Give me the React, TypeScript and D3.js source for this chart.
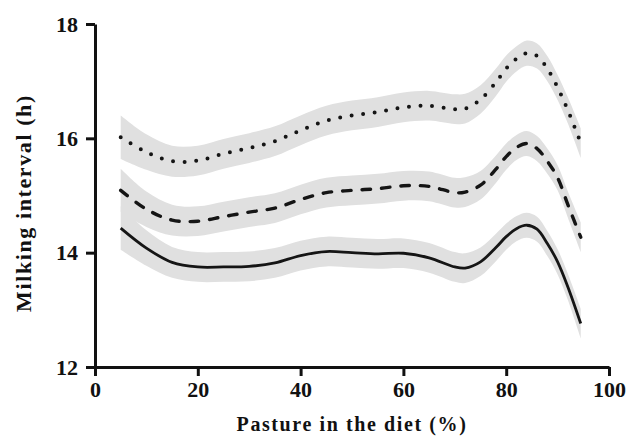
import React, { useRef, useEffect } from 'react';
import * as d3 from 'd3';

// pasture in the diet (%)
const pasture = [5, 10, 15, 20, 25, 30, 35, 40, 45, 50, 55, 60, 65, 70, 72, 75, 78, 80, 82, 84, 86, 88, 90, 92, 94.5];

// milking interval (h)
const upperCurve = [16.02, 15.76, 15.6, 15.61, 15.73, 15.83, 15.95, 16.14, 16.31, 16.4, 16.46, 16.54, 16.57, 16.51, 16.52, 16.68, 16.98, 17.22, 17.39, 17.49, 17.44, 17.22, 16.89, 16.49, 15.92];
const middleCurve = [15.09, 14.76, 14.57, 14.55, 14.63, 14.71, 14.78, 14.93, 15.05, 15.09, 15.12, 15.17, 15.16, 15.05, 15.06, 15.18, 15.46, 15.68, 15.84, 15.91, 15.82, 15.6, 15.31, 14.84, 14.27];
const lowerCurve = [14.43, 14.08, 13.83, 13.75, 13.75, 13.76, 13.82, 13.95, 14.02, 14.0, 13.98, 13.99, 13.91, 13.75, 13.73, 13.84, 14.09, 14.28, 14.42, 14.48, 14.41, 14.16, 13.84, 13.4, 12.76];

// half width of the grey confidence band (h)
const bandHalf = [0.38, 0.31, 0.27, 0.26, 0.26, 0.26, 0.26, 0.26, 0.26, 0.26, 0.26, 0.26, 0.26, 0.26, 0.26, 0.25, 0.24, 0.23, 0.22, 0.22, 0.22, 0.22, 0.22, 0.23, 0.26];

const xTicks = [0, 20, 40, 60, 80, 100];
const yTicks = [12, 14, 16, 18];

const FONT = '"Liberation Serif", "Times New Roman", serif';

const Chart = () => {
  const ref = useRef(null);

  useEffect(() => {
    d3.select(ref.current).selectAll('*').remove();
    const width = 629;
    const height = 439;

    const x = d3.scaleLinear().domain([0, 100]).range([95, 609]);
    const y = d3.scaleLinear().domain([12, 18]).range([367, 24]);

    const svg = d3.select(ref.current)
      .append('svg')
        .attr('width', width)
        .attr('height', height)
        .style('position', 'absolute')
        .style('left', 0)
        .style('top', 0)
        .style('background', '#fff');

    const series = [
      { values: upperCurve, dash: '0 11.6', width: 4 },
      { values: middleCurve, dash: '8.5 11', width: 3.4 },
      { values: lowerCurve, dash: null, width: 2.8 },
    ];

    const band = d3.area()
      .x(d => x(d[0]))
      .y0(d => y(d[1] - d[2]))
      .y1(d => y(d[1] + d[2]))
      .curve(d3.curveCatmullRom);

    const line = d3.line()
      .x(d => x(d[0]))
      .y(d => y(d[1]))
      .curve(d3.curveCatmullRom);

    series.forEach(s => {
      const pts = pasture.map((p, i) => [p, s.values[i], bandHalf[i]]);
      svg.append('path')
          .datum(pts)
          .attr('fill', '#e0e0e0')
          .attr('d', band);
    });

    series.forEach(s => {
      const pts = pasture.map((p, i) => [p, s.values[i]]);
      const path = svg.append('path')
          .datum(pts)
          .attr('fill', 'none')
          .attr('stroke', '#151515')
          .attr('stroke-width', s.width)
          .attr('stroke-linecap', s.dash ? 'round' : 'butt')
          .attr('d', line);
      if (s.dash) path.attr('stroke-dasharray', s.dash);
    });

    // axes
    const xAxis = svg.append('g')
        .attr('transform', `translate(0, ${y(12)})`)
        .call(d3.axisBottom(x).tickValues(xTicks).tickFormat(d3.format('d')).tickSize(9).tickPadding(5).tickSizeOuter(0));
    const yAxis = svg.append('g')
        .attr('transform', `translate(${x(0)}, 0)`)
        .call(d3.axisLeft(y).tickValues(yTicks).tickFormat(d3.format('d')).tickSize(9).tickPadding(8).tickSizeOuter(0));

    [xAxis, yAxis].forEach(g => {
      g.select('.domain').attr('stroke', '#111').attr('stroke-width', 3);
      g.selectAll('.tick line').attr('stroke', '#111').attr('stroke-width', 3);
      g.selectAll('.tick text')
          .attr('fill', '#111')
          .style('font-family', FONT)
          .style('font-size', '22px')
          .style('font-weight', 'bold');
    });

    svg.append('text')
        .attr('x', 352)
        .attr('y', 431)
        .attr('text-anchor', 'middle')
        .style('font-family', FONT)
        .style('font-size', '20px')
        .style('font-weight', 'bold')
        .style('letter-spacing', '1.6px')
        .attr('fill', '#111')
        .text('Pasture in the diet (%)');

    svg.append('text')
        .attr('transform', 'translate(31, 203) rotate(-90)')
        .attr('text-anchor', 'middle')
        .style('font-family', FONT)
        .style('font-size', '22px')
        .style('font-weight', 'bold')
        .style('letter-spacing', '1.6px')
        .attr('fill', '#111')
        .text('Milking interval (h)');
  }, []);

  return <div ref={ref}></div>;
};

export default function App() {
  return <Chart />;
}
